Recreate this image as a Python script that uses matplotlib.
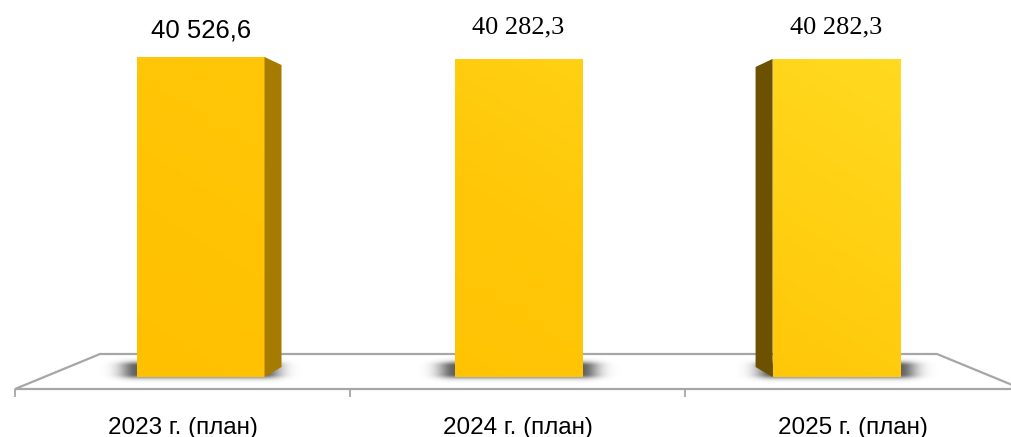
import matplotlib
matplotlib.use('Agg')
import matplotlib.pyplot as plt
import numpy as np
from matplotlib.colors import LinearSegmentedColormap
from matplotlib.patches import Polygon

categories = ['2023 г. (план)', '2024 г. (план)', '2025 г. (план)']
values = [40526.6, 40282.3, 40282.3]
value_labels = ['40 526,6', '40 282,3', '40 282,3']

# styles
label_fonts = ['Liberation Sans', 'Liberation Serif', 'Liberation Serif']
label_pads = [13.7, 18.7, 18.7]   # points above bar top
side_colors = ['#a67c00', None, '#6b5100']
edge_gray = '#a6a6a6'

W, H = 1012, 437
XLIM = (-0.633, 2.554)
YLIM = (-7599, 47747)

fig = plt.figure(figsize=(W / 100, H / 100), dpi=100)
ax = fig.add_axes([0, 0, 1, 1])
ax.axis('off')
ux = (XLIM[1] - XLIM[0]) / W   # data units per pixel
uy = (YLIM[1] - YLIM[0]) / H

x = np.arange(len(values))
bw = 0.4

# floor plane (perspective trapezoid)
floor = Polygon([(100 / W, 1 - 354 / H), (937 / W, 1 - 354 / H),
                 (1022 / W, 1 - 389 / H), (15 / W, 1 - 389 / H)],
                closed=True, transform=ax.transAxes, fc='white',
                ec=edge_gray, lw=1.6, zorder=1, clip_on=False)
ax.add_patch(floor)

# soft shadows under bars
pad = 50
for xi in x:
    wpx = int(round(bw / ux))
    nx, ny = wpx + 2 * pad, 32
    px = np.arange(nx)[None, :] + 0.5
    py = np.arange(ny)[:, None] - 6 + 0.5
    dx = np.maximum(0, np.maximum(pad - px, px - (pad + wpx)))
    dy = np.maximum(0, np.maximum(3 - py, py - 11))
    a = 0.62 * np.exp(-((dx / 17.0) ** 2 + (dy / 4.5) ** 2))
    img = np.zeros((ny, nx, 4))
    img[..., 3] = a
    x0 = xi - bw / 2 - pad * ux
    ax.imshow(img, extent=[x0, x0 + nx * ux, -6 * uy, (ny - 6) * uy],
              origin='lower', aspect='auto', interpolation='bilinear', zorder=2)

# bars with gradient fill
bars = ax.bar(x, values, width=bw, color='none', edgecolor='none', zorder=3)
cmap = LinearSegmentedColormap.from_list('gold', ['#ffc000', '#ffc708', '#ffda20'])
gx, gy = np.meshgrid(np.linspace(0, 1, 300), np.linspace(0, 1, 150))
grad = np.clip((gx - 0.14) / 0.75 * 0.6 + (gy - 0.14) / 0.73 * 0.4, 0, 1)
for b in bars:
    im = ax.imshow(grad, extent=[XLIM[0], XLIM[1], YLIM[0], YLIM[1]], cmap=cmap,
                   vmin=0, vmax=1, origin='lower', aspect='auto', zorder=3)
    im.set_clip_path(b)

# side faces
for i, (xi, v) in enumerate(zip(x, values)):
    if side_colors[i] is None:
        continue
    s = 1 if xi < 1 else -1
    xe = xi + s * bw / 2
    d = s * 17 * ux
    face = Polygon([(xe, v), (xe + d, v - 8 * uy), (xe + d, 10 * uy), (xe, 0)],
                   closed=True, fc=side_colors[i], ec='none', zorder=3)
    ax.add_patch(face)

# value labels
for i, (xi, v) in enumerate(zip(x, values)):
    ax.annotate(value_labels[i], (xi, v), xytext=(0, label_pads[i]),
                textcoords='offset points', ha='center', va='baseline',
                fontsize=19 if i else 18.5, family=label_fonts[i], color='black')

ax.set_xlim(*XLIM)
ax.set_ylim(*YLIM)

# category axis along front edge of floor
ax2 = fig.add_axes([15 / W, 1 - 389 / H, 1005 / W, 0.05])
ax2.patch.set_visible(False)
for sp in ax2.spines.values():
    sp.set_visible(False)
ax2.set_xlim(-0.5, len(categories) - 0.5)
ax2.set_yticks([])
ax2.set_xticks(np.arange(len(categories) + 1) - 0.5)
ax2.set_xticklabels([])
ax2.tick_params(axis='x', which='major', length=6, width=1.3, color=edge_gray, direction='out')
ax2.set_xticks(x, minor=True)
ax2.set_xticklabels(categories, minor=True, fontsize=17.5, family='Liberation Sans')
ax2.tick_params(axis='x', which='minor', length=0, pad=20)

fig.savefig('out.png', dpi=100)
